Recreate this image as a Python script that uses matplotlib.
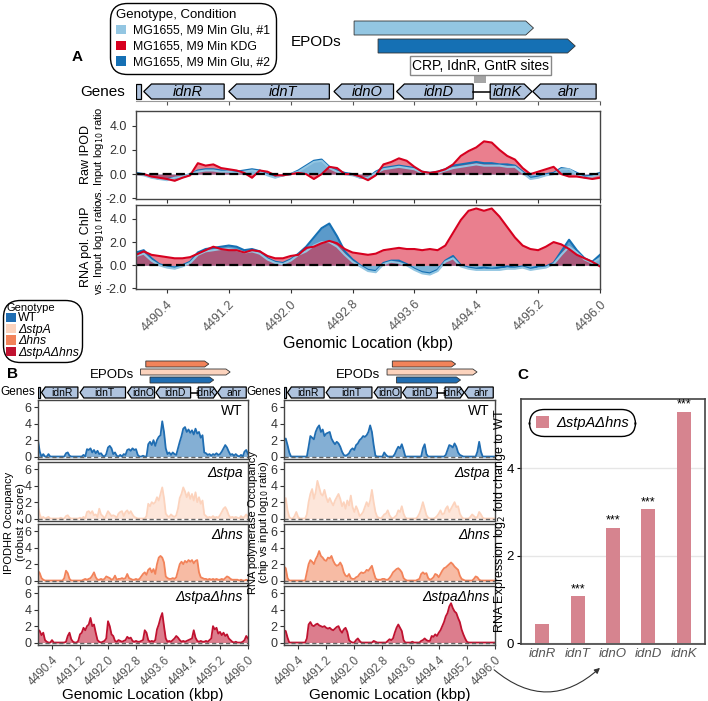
import numpy as np
import matplotlib
matplotlib.use("Agg")
import matplotlib.pyplot as plt
from matplotlib.patches import Polygon, Rectangle, Patch, FancyArrowPatch

plt.rcParams['font.family'] = ['Liberation Sans', 'DejaVu Sans']

W, H = 708, 701

# ---------------- data ----------------
tick_pos = [4490.4, 4491.2, 4492.0, 4492.8, 4493.6, 4494.4, 4495.2, 4496.0]

gene_names = ["idnR", "idnT", "idnO", "idnD", "idnK", "ahr"]
gene_start = [4490.10, 4491.20, 4492.56, 4493.37, 4494.58, 4495.13]
gene_end = [4491.14, 4492.50, 4493.33, 4494.36, 4495.12, 4495.95]
gene_strand = [-1, -1, -1, -1, 1, -1]
stub_gene = [4490.0, 4490.06]
site_span = [4494.36, 4494.54]

# panel A
cond_labels = ["MG1655, M9 Min Glu, #1", "MG1655, M9 Min KDG", "MG1655, M9 Min Glu, #2"]
cond_colors = ["#93c6e2", "#d7001f", "#1570b4"]
epod_a_start = [4492.82, 4493.13]
epod_a_end = [4495.14, 4495.68]

pos_a = np.linspace(4490.0, 4496.0, 61)
raw_glu1 = [0.0, -0.1, -0.3, -0.4, -0.5, -0.3, -0.2, 0.0, 0.2, 0.3,
            0.3, 0.2, 0.2, 0.1, 0.2, 0.3, 0.2, -0.1, -0.3, -0.1,
            0.0, 0.2, 0.6, 1.0, 1.1, 0.5, 0.2, 0.0, -0.1, -0.3,
            -0.3, 0.1, 0.4, 0.5, 0.6, 0.5, 0.4, 0.1, 0.1, 0.1,
            0.3, 0.5, 0.6, 0.7, 0.8, 0.7, 0.7, 0.7, 0.6, 0.6,
            0.1, -0.4, -0.3, -0.1, 0.0, 0.4, 0.4, 0.0, -0.3, -0.2, 0.0]
raw_kdg = [0.0, 0.0, -0.2, -0.3, -0.4, -0.55, -0.3, -0.1, 0.9, 0.7,
           0.8, 0.5, 0.4, 0.3, 0.1, -0.3, 0.3, 0.2, -0.1, -0.1,
           0.0, 0.1, 0.0, -0.4, 0.0, 0.6, 0.5, 0.0, 0.0, -0.2,
           -0.5, -0.1, 0.8, 1.0, 1.3, 1.1, 0.6, 0.2, 0.1, 0.2,
           0.4, 0.8, 1.5, 1.9, 2.2, 2.7, 2.6, 2.0, 1.5, 1.2,
           0.5, 0.0, 0.2, 0.4, 0.6, 0.0, -0.2, -0.2, -0.3, -0.4, -0.3]
raw_glu2 = [0.1, 0.0, -0.2, -0.4, -0.4, -0.3, -0.2, 0.0, 0.3, 0.4,
            0.4, 0.3, 0.2, 0.2, 0.3, 0.4, 0.3, 0.0, -0.2, -0.1,
            0.0, 0.3, 0.7, 1.1, 1.2, 0.6, 0.3, 0.1, 0.0, -0.3,
            -0.3, 0.2, 0.5, 0.6, 0.7, 0.6, 0.5, 0.2, 0.1, 0.2,
            0.4, 0.7, 0.8, 0.9, 1.0, 0.9, 0.9, 0.8, 0.8, 0.7,
            0.2, -0.3, -0.2, 0.0, 0.1, 0.5, 0.4, 0.1, -0.2, -0.1, 0.1]
rna_glu1 = [0.8, 1.0, 0.4, 0.0, -0.2, -0.3, -0.1, 0.2, 0.9, 1.2,
            1.3, 1.4, 1.4, 1.3, 1.1, 1.2, 1.0, 0.5, 0.2, 0.1,
            0.4, 0.9, 1.2, 1.7, 2.0, 2.0, 1.6, 0.9, 0.3, -0.1,
            -0.5, -0.6, 0.1, 0.3, 0.2, 0.0, -0.4, -0.7, -0.8, -0.5,
            0.3, 0.6, -0.1, -0.3, -0.4, -0.4, -0.4, -0.4, -0.3, -0.3,
            -0.2, -0.4, -0.3, -0.2, 0.1, 0.9, 1.6, 1.1, 0.5, 0.2, 0.6]
rna_kdg = [0.9, 1.2, 0.9, 0.8, 0.7, 0.6, 0.6, 0.7, 1.0, 1.3,
           1.6, 1.4, 1.3, 1.3, 1.1, 1.3, 1.2, 0.8, 0.6, 0.6,
           0.8, 0.9, 1.5, 1.6, 1.9, 2.1, 1.9, 1.4, 1.1, 1.0,
           0.9, 1.0, 1.3, 1.4, 1.5, 1.4, 1.4, 1.3, 1.4, 1.3,
           1.7, 2.8, 3.9, 4.7, 4.9, 4.7, 4.9, 4.2, 3.3, 2.4,
           1.7, 1.4, 1.3, 1.6, 2.0, 1.8, 1.4, 0.9, 0.6, 0.3, -0.1]
rna_glu2 = [1.1, 1.3, 0.6, 0.1, -0.1, -0.2, 0.0, 0.3, 1.1, 1.4,
            1.5, 1.6, 1.7, 1.6, 1.3, 1.4, 1.2, 0.6, 0.3, 0.2,
            0.5, 1.0, 1.6, 2.4, 3.2, 3.6, 2.5, 1.2, 0.5, 0.0,
            -0.4, -0.5, 0.2, 0.4, 0.4, 0.1, -0.3, -0.6, -0.7, -0.4,
            0.4, 0.8, 0.0, -0.2, -0.3, -0.2, -0.3, -0.2, -0.1, -0.2,
            -0.1, -0.3, -0.1, -0.1, 0.2, 1.2, 2.2, 1.3, 0.6, 0.3, 0.9]

# panel B
geno_labels = ["WT", "\u0394stpA", "\u0394hns", "\u0394stpA\u0394hns"]
geno_tags = ["WT", "\u0394stpa", "\u0394hns", "\u0394stpa\u0394hns"]
geno_colors = ["#1f6db2", "#fcd3bd", "#f2835a", "#c01230"]
epod_b_order = [2, 1, 0]  # hns, stpA, WT rows top to bottom
epod_b_start = [4493.20, 4492.93, 4493.08]   # WT, stpA, hns
epod_b_end = [4495.02, 4495.49, 4494.88]

pos_b = np.linspace(4490.0, 4496.0, 121)
ipod_wt = [2.0, 0.6, 0.0, 0.3, 0.0, 0.0, 0.3, 0.0, 0.0, 0.0,
           0.0, 0.0, 0.0, 0.0, 0.0, 0.0, 0.4, 0.5, 0.1, 0.0,
           0.0, 0.0, 0.0, 0.0, 0.0, 0.0, 0.2, 0.0, 0.9, 0.8,
           1.0, 0.5, 0.8, 0.4, 0.7, 0.3, 0.4, 0.1, 0.0, 0.3,
           1.1, 1.3, 1.0, 0.3, 0.5, 0.1, 0.0, 0.2, 0.0, 0.3,
           0.2, 0.8, 0.9, 0.7, 1.0, 0.8, 0.9, 0.2, 0.0, 0.0,
           0.1, 0.0, 0.0, 1.5, 1.8, 1.4, 2.0, 1.3, 2.0, 2.4,
           2.6, 4.3, 3.0, 1.0, 0.3, 0.5, 0.2, 0.5, 0.3, 0.2,
           1.0, 1.8, 2.5, 3.4, 3.6, 3.0, 3.3, 2.9, 3.2, 2.7,
           3.4, 2.8, 3.0, 2.3, 2.6, 0.5, 0.4, 0.2, 0.3, 0.1,
           0.3, 0.2, 0.4, 0.2, 0.3, 0.6, 1.0, 1.4, 1.1, 0.6,
           0.2, 0.3, 0.1, 0.3, 0.1, 0.0, 0.2, 0.0, 0.6, 0.8, 0.3]
ipod_stpa = [1.4, 0.5, 0.0, 0.2, 0.0, 0.1, 0.2, 0.0, 0.0, 0.0,
             0.0, 0.0, 0.0, 0.1, 0.0, 0.0, 0.3, 0.4, 0.1, 0.0,
             0.0, 0.0, 0.0, 0.0, 0.1, 0.0, 0.2, 0.0, 0.8, 0.9,
             0.6, 0.9, 0.4, 0.5, 0.2, 1.2, 0.5, 0.3, 0.0, 0.4,
             0.9, 0.6, 0.3, 0.4, 0.3, 0.1, 0.6, 0.8, 0.9, 0.3,
             0.8, 1.0, 0.6, 0.9, 0.5, 0.2, 0.1, 0.0, 0.0, 0.0,
             0.0, 0.0, 0.3, 1.8, 1.5, 2.0, 1.8, 2.0, 2.6, 2.2,
             3.0, 3.8, 2.5, 0.6, 0.3, 0.2, 0.5, 0.3, 0.2, 0.4,
             1.2, 2.5, 3.0, 3.8, 3.3, 2.6, 3.2, 2.4, 3.0, 2.2,
             3.2, 2.0, 2.6, 1.8, 2.2, 0.5, 0.3, 0.1, 0.2, 0.1,
             0.3, 0.1, 0.2, 0.1, 0.4, 0.8, 1.2, 1.4, 1.0, 0.4,
             0.1, 0.2, 0.1, 0.2, 0.1, 0.0, 0.3, 0.1, 0.2, 0.5, 0.2]
ipod_hns = [1.2, 0.9, 0.3, 0.1, 0.0, 0.0, 0.0, 0.0, 0.0, 0.0,
            0.0, 0.0, 0.0, 0.0, 0.0, 0.3, 1.2, 0.9, 0.2, 0.0,
            0.0, 0.0, 0.0, 0.0, 0.0, 0.0, 0.1, 0.2, 0.1, 0.2,
            0.3, 0.6, 1.0, 0.4, 0.1, 0.1, 0.2, 0.1, 0.2, 0.5,
            0.4, 0.3, 0.1, 0.2, 0.6, 0.1, 0.2, 0.2, 0.3, 0.2,
            0.3, 0.8, 0.3, 0.2, 0.1, 0.1, 0.2, 0.1, 0.2, 0.5,
            0.8, 1.0, 0.7, 1.3, 1.5, 1.0, 1.4, 0.8, 2.0, 2.8,
            3.0, 2.8, 2.2, 0.5, 0.3, 0.2, 0.2, 0.3, 0.2, 0.4,
            1.2, 2.0, 2.3, 2.0, 2.4, 2.2, 2.5, 2.3, 2.5, 2.1,
            2.4, 2.5, 1.0, 0.4, 0.3, 0.2, 0.2, 0.1, 0.2, 0.1,
            0.2, 0.1, 0.2, 0.1, 0.1, 0.2, 0.1, 0.3, 0.5, 0.4,
            0.2, 0.1, 0.1, 0.1, 0.1, 0.0, 0.1, 0.0, 0.0, 0.1, 0.0]
ipod_double = [1.6, 1.4, 0.9, 1.2, 0.3, 0.1, 0.0, 0.0, 0.3, 0.0,
               0.0, 0.0, 0.0, 0.0, 0.0, 0.0, 0.1, 0.8, 1.2, 0.4,
               0.1, 0.0, 0.0, 0.2, 1.0, 1.2, 1.8, 1.5, 2.0, 2.2,
               3.0, 2.0, 2.2, 1.2, 0.3, 0.1, 0.0, 0.1, 0.2, 0.5,
               2.6, 2.0, 1.0, 0.8, 0.2, 0.1, 0.3, 0.2, 0.1, 0.2,
               0.3, 0.7, 0.5, 0.6, 0.2, 0.1, 0.2, 0.1, 0.1, 0.2,
               0.3, 1.5, 1.2, 0.3, 0.1, 0.2, 0.1, 0.3, 1.6, 2.2,
               3.0, 3.6, 2.0, 0.5, 0.1, 0.2, 0.1, 0.3, 0.5, 0.8,
               0.6, 0.3, 0.1, 0.2, 0.1, 0.2, 0.3, 0.4, 0.5, 1.5,
               0.6, 0.2, 0.1, 0.2, 0.1, 0.1, 0.2, 0.1, 0.3, 0.5,
               2.0, 1.6, 1.8, 1.1, 1.3, 0.9, 1.2, 0.8, 1.0, 0.5,
               0.3, 0.1, 0.0, 0.1, 0.0, 0.0, 0.0, 0.1, 0.3, 0.8, 0.5]

rnap_wt = [2.0, 2.2, 1.4, 0.5, 0.0, 0.0, 0.0, 0.0, 0.0, 0.0,
           0.0, 0.0, 0.0, 0.0, 1.2, 2.5, 2.3, 2.1, 3.0, 3.5,
           3.8, 3.0, 3.3, 2.5, 2.8, 2.9, 3.0, 2.2, 1.8, 1.5,
           1.8, 1.6, 1.2, 0.6, 0.2, 0.1, 0.2, 0.4, 0.8, 1.0,
           0.8, 1.4, 1.6, 2.0, 2.2, 2.5, 2.4, 2.6, 3.0, 3.8,
           3.0, 1.4, 0.1, 0.0, 0.0, 0.0, 0.0, 0.5, 0.2, 0.0,
           0.0, 0.0, 0.0, 0.3, 0.8, 1.2, 1.0, 1.5, 0.8, 0.0,
           0.0, 0.0, 0.0, 0.0, 0.0, 0.0, 0.0, 0.0, 0.0, 1.0,
           1.5, 0.3, 0.0, 0.0, 0.0, 0.0, 0.0, 0.0, 0.0, 0.0,
           0.0, 0.0, 0.2, 0.8, 1.4, 1.3, 1.1, 1.6, 1.2, 0.5,
           0.2, 0.1, 0.0, 0.0, 0.0, 0.0, 0.0, 0.0, 0.0, 0.0,
           0.6, 1.8, 0.6, 0.0, 0.0, 0.0, 0.0, 0.0, 0.0, 0.0, 0.0]
rnap_stpa = [1.8, 2.5, 1.0, 0.2, 0.0, 0.0, 0.3, 0.8, 0.2, 0.0,
             0.0, 0.0, 0.0, 0.5, 2.0, 3.0, 3.6, 2.4, 3.2, 4.6,
             3.8, 3.0, 2.8, 3.5, 2.6, 2.0, 2.5, 2.0, 1.6, 2.2,
             2.6, 3.0, 2.4, 1.5, 2.0, 1.2, 2.2, 1.6, 2.8, 1.4,
             0.8, 1.5, 1.0, 0.3, 0.5, 0.8, 1.4, 2.0, 1.5, 2.2,
             3.5, 2.0, 0.8, 0.2, 0.1, 0.0, 0.2, 0.5, 0.6, 1.0,
             0.4, 0.1, 0.0, 0.2, 0.4, 1.0, 0.8, 1.5, 0.6, 0.1,
             0.0, 0.0, 0.0, 0.0, 0.0, 0.0, 0.2, 0.6, 1.2, 2.0,
             1.2, 0.4, 0.1, 0.0, 0.0, 0.0, 0.1, 0.3, 0.6, 1.0,
             0.5, 0.6, 1.2, 1.5, 0.8, 1.2, 1.6, 2.0, 1.4, 1.5,
             0.6, 0.2, 0.0, 0.0, 0.0, 0.0, 0.2, 0.5, 0.3, 0.1,
             0.2, 0.8, 0.5, 0.1, 0.0, 0.0, 0.0, 0.0, 0.0, 0.0, 0.0]
rnap_hns = [1.7, 1.5, 0.3, 0.0, 0.0, 0.0, 0.0, 0.0, 0.0, 0.0,
            0.0, 0.0, 0.0, 1.0, 2.0, 2.5, 2.3, 2.0, 2.6, 3.0,
            3.6, 3.0, 2.8, 2.5, 2.4, 2.8, 2.7, 3.0, 2.4, 2.0,
            1.8, 1.9, 2.2, 1.8, 1.0, 0.6, 0.5, 0.8, 0.3, 0.2,
            0.2, 0.4, 0.5, 0.8, 1.0, 0.9, 1.0, 1.3, 1.2, 1.5,
            1.8, 1.0, 0.3, 0.1, 0.1, 0.1, 0.2, 0.2, 0.1, 0.1,
            0.3, 0.6, 1.0, 1.2, 1.4, 1.5, 1.3, 1.0, 0.3, 0.1,
            0.0, 0.0, 0.0, 0.0, 0.0, 0.0, 0.1, 0.2, 0.8, 1.0,
            0.8, 0.9, 0.3, 0.1, 0.2, 0.4, 0.8, 0.7, 0.4, 0.8,
            1.2, 1.5, 1.6, 1.8, 2.0, 2.2, 2.0, 1.7, 1.5, 1.3,
            0.6, 0.2, 0.1, 0.0, 0.0, 0.0, 0.0, 0.0, 0.2, 0.5,
            0.4, 0.1, 0.0, 0.0, 0.0, 0.0, 0.0, 0.0, 0.0, 0.0, 0.0]
rnap_double = [1.5, 1.4, 0.6, 0.0, 0.0, 0.0, 0.0, 0.0, 0.0, 0.0,
               0.0, 0.0, 0.0, 0.5, 2.2, 2.5, 2.1, 2.0, 2.2, 2.3,
               2.1, 2.0, 1.9, 2.0, 1.8, 1.7, 1.8, 1.6, 1.5, 1.7,
               1.9, 2.0, 1.5, 1.2, 1.6, 1.8, 1.3, 0.3, 0.1, 0.0,
               0.0, 0.3, 0.5, 0.2, 0.0, 0.0, 0.0, 0.0, 0.0, 0.0,
               0.0, 0.2, 0.1, 0.0, 0.0, 0.0, 0.0, 0.0, 0.0, 0.2,
               0.4, 0.3, 0.5, 1.2, 1.8, 2.2, 1.8, 1.4, 0.3, 0.0,
               0.0, 0.0, 0.0, 0.1, 0.0, 0.0, 0.0, 0.0, 0.2, 0.3,
               0.5, 0.3, 0.2, 0.2, 0.8, 0.7, 1.0, 0.8, 1.2, 1.5,
               2.0, 2.5, 3.2, 3.6, 4.4, 4.8, 4.2, 3.8, 3.6, 3.0,
               2.5, 1.6, 1.0, 0.5, 0.1, 0.0, 0.0, 0.0, 0.0, 0.0,
               0.0, 0.0, 0.0, 0.0, 0.0, 0.0, 0.0, 0.0, 0.0, 0.0, 0.0]

# panel C
genes_c = ["idnR", "idnT", "idnO", "idnD", "idnK"]
fold_c = [0.43, 1.07, 2.63, 3.06, 5.28]
sig_c = ["", "***", "***", "***", "***"]

GENE_FC = "#afc3de"
SPINE = "#444444"
TICKC = "#555555"


fig = plt.figure(figsize=(W / 100, H / 100), dpi=100)


def px_axes(x0, y0, x1, y1):
    return fig.add_axes([x0 / W, 1 - y1 / H, (x1 - x0) / W, (y1 - y0) / H])


def px_vtext(x, y, s, fs):
    # one rotated line of an axis label, placed in figure pixels
    fig.text(x / W, 1 - y / H, s, rotation=90, ha="center", va="center", fontsize=fs)


def draw_genes(ax, top, bot, tip, fs, italic):
    mid = (top + bot) / 2
    ax.add_patch(Rectangle((stub_gene[0], bot), stub_gene[1] - stub_gene[0], top - bot,
                           fc=GENE_FC, ec="k", lw=0.9))
    ax.plot([gene_end[3], gene_start[4]], [mid, mid], color="k", lw=1.1)
    for name, s, e, st in zip(gene_names, gene_start, gene_end, gene_strand):
        if st < 0:
            pts = [(s, mid), (s + tip, top), (e, top), (e, bot), (s + tip, bot)]
            cx = (s + tip + e) / 2
        else:
            pts = [(s, bot), (s, top), (e - tip, top), (e, mid), (e - tip, bot)]
            cx = (s + e - tip) / 2
        ax.add_patch(Polygon(pts, closed=True, fc=GENE_FC, ec="k", lw=0.9))
        ax.text(cx, mid, name, ha="center", va="center", fontsize=fs,
                style="italic" if italic else "normal")


def draw_epod(ax, s, e, top, bot, tip, color):
    mid = (top + bot) / 2
    pts = [(s, top), (e - tip, top), (e, mid), (e - tip, bot), (s, bot)]
    ax.add_patch(Polygon(pts, closed=True, fc=color, ec="#333333", lw=0.6))


def annot_axes(x0, y0, x1, y1):
    ax = px_axes(x0, y0, x1, y1)
    ax.set_xlim(4490.0, 4496.0)
    ax.set_ylim(y1, y0)
    for sp in ["top", "left", "right"]:
        ax.spines[sp].set_visible(False)
    ax.spines["bottom"].set_color("#999999")
    ax.spines["bottom"].set_linewidth(0.8)
    ax.set_xticks(tick_pos)
    ax.tick_params(axis="x", length=3, color="#555555", labelbottom=False)
    ax.set_yticks([])
    ax.patch.set_alpha(0)
    return ax


def style_track(ax):
    for sp in ax.spines.values():
        sp.set_color(SPINE)
        sp.set_linewidth(1.0)
    ax.set_xlim(4490.0, 4496.0)
    ax.set_xticks(tick_pos)
    ax.tick_params(axis="both", labelsize=9, colors="#333333", length=3, width=0.8)


# ---------------- panel A ----------------
ann_a = annot_axes(136, 15, 600, 101)
draw_genes(ann_a, 84, 99, 0.1, 10.5, True)
for s, e, c, top in zip(epod_a_start, epod_a_end, [cond_colors[0], cond_colors[2]], [21, 39]):
    draw_epod(ann_a, s, e, top, top + 14, 0.1, c)
site_mid = (site_span[0] + site_span[1]) / 2
ann_a.add_patch(Rectangle((site_span[0] + 0.01, 76), site_span[1] - site_span[0] - 0.02, 7,
                          fc="#a5a5a5", ec="none"))
ann_a.text(site_mid, 65.5, "CRP, IdnR, GntR sites", ha="center", va="center", fontsize=10,
           bbox=dict(boxstyle="square,pad=0.15", fc="white", ec="#888888", lw=1))
fig.text(125 / W, 1 - 92 / H, "Genes", ha="right", va="center", fontsize=11)
fig.text(316 / W, 1 - 42 / H, "EPODs", ha="center", va="center", fontsize=11)
fig.text(77 / W, 1 - 57 / H, "A", ha="center", va="center", fontsize=11, weight="bold")

track_sets = [
    ((111, 199), [raw_glu2, raw_glu1, raw_kdg], "Raw IPOD"),
    ((205, 289), [rna_glu2, rna_glu1, rna_kdg], "RNA pol. ChIP"),
]
fill_cols = [(cond_colors[2], 0.7), (cond_colors[0], 0.6), (cond_colors[1], 0.5)]
for k, ((y0, y1), series, ylab) in enumerate(track_sets):
    ax = px_axes(136, y0, 600, y1)
    style_track(ax)
    for vals, (c, a) in zip(series, fill_cols):
        ax.fill_between(pos_a, 0, vals, color=c, alpha=a, lw=0)
    for vals, (c, a) in zip(series, fill_cols):
        ax.plot(pos_a, vals, color=c, lw=1.5)
    ax.axhline(0, color="k", lw=1.6, dashes=(4, 2))
    ax.set_ylim(-2.05, 5.2)
    ax.set_yticks([-2, 0, 2, 4])
    ax.set_yticklabels(["-2.0", "0.0", "2.0", "4.0"])
    px_vtext(86, (y0 + y1) / 2, ylab, 9)
    px_vtext(98.5, (y0 + y1) / 2, "vs. Input log$_{10}$ ratio", 8)
    if k == 0:
        ax.tick_params(axis="x", labelbottom=False)
    else:
        ax.set_xticklabels([f"{t:.1f}" for t in tick_pos], rotation=45, ha="right",
                           rotation_mode="anchor", color=TICKC, fontsize=9)
        ax.set_xlabel("Genomic Location (kbp)", fontsize=11.5, labelpad=2)

leg_a = fig.legend([Patch(fc=c, ec="none") for c in cond_colors], cond_labels,
                   title="Genotype, Condition", loc="upper left",
                   bbox_to_anchor=(110 / W, 1 - 3 / H), fontsize=8.8, title_fontsize=9.5,
                   frameon=True, fancybox=True, edgecolor="k", framealpha=1,
                   handlelength=0.8, handleheight=0.8, handletextpad=0.6,
                   borderpad=0.5, labelspacing=0.3, alignment="left", borderaxespad=0)
leg_a.get_frame().set_boxstyle("round,pad=0,rounding_size=1.4")
leg_a.get_frame().set_linewidth(1.0)

# ---------------- panel B ----------------
leg_b = fig.legend([Patch(fc=c, ec="none") for c in geno_colors], geno_labels,
                   title="Genotype", loc="upper left", bbox_to_anchor=(3 / W, 1 - 300 / H),
                   fontsize=8.8, title_fontsize=8, frameon=True, fancybox=True,
                   edgecolor="k", framealpha=1, handlelength=0.8, handleheight=0.8,
                   handletextpad=0.2, borderpad=0.25, labelspacing=-0.05, alignment="left",
                   borderaxespad=0)
leg_b.get_frame().set_boxstyle("round,pad=0,rounding_size=1.4")
for t in leg_b.get_texts()[1:]:
    t.set_style("italic")
fig.text(12 / W, 1 - 374 / H, "B", ha="center", va="center", fontsize=11, weight="bold")

b_panels = [
    (38, 248, [ipod_wt, ipod_stpa, ipod_hns, ipod_double],
     ["IPODHR Occupancy", "(robust z score)"], (9.5, 21), 112),
    (284, 495, [rnap_wt, rnap_stpa, rnap_hns, rnap_double],
     ["RNA polymerase Occupancy", "(chip vs input log$_{10}$ ratio)"], (253.5, 264), 358),
]
row_y = [(400, 459), (462, 521), (524, 583), (586, 645)]
for x0, x1, series, ylab, lab_x, epx in b_panels:
    ann = annot_axes(x0, 355, x1, 401)
    draw_genes(ann, 387, 398, 0.11, 7.5, False)
    for r, gi in enumerate(epod_b_order):
        top = 361 + 8 * r
        draw_epod(ann, epod_b_start[gi], epod_b_end[gi], top, top + 6, 0.12, geno_colors[gi])
    fig.text((x0 - 3) / W, 1 - 392 / H, "Genes", ha="right", va="center", fontsize=8.5)
    fig.text(epx / W, 1 - 375 / H, "EPODs", ha="center", va="center", fontsize=9.5)
    for r, (y0, y1) in enumerate(row_y):
        ax = px_axes(x0, y0, x1, y1)
        style_track(ax)
        c = geno_colors[r]
        ax.fill_between(pos_b, 0, series[r], color=c, alpha=0.55, lw=0)
        ax.plot(pos_b, series[r], color=c, lw=1.3)
        ax.axhline(0, color="#666666", lw=1.0, dashes=(3, 2))
        ax.set_ylim(-0.3, 6.9)
        ax.set_yticks([0, 2, 4, 6])
        ax.tick_params(axis="y", pad=1.5)
        ax.text(0.975, 0.93, geno_tags[r], transform=ax.transAxes, ha="right", va="top",
                fontsize=10, style="normal" if r == 0 else "italic")
        if r < 3:
            ax.tick_params(axis="x", labelbottom=False, length=0)
        else:
            ax.set_xticklabels([f"{t:.1f}" for t in tick_pos], rotation=45, ha="right",
                               rotation_mode="anchor", color=TICKC, fontsize=8.5)
            ax.set_xlabel("Genomic Location (kbp)", fontsize=11, labelpad=0)
    yc = (row_y[0][0] + row_y[-1][1]) / 2
    px_vtext(lab_x[0], yc, ylab[0], 8)
    px_vtext(lab_x[1], yc, ylab[1], 8)

# ---------------- panel C ----------------
axc = px_axes(521, 399, 705, 644)
idx = np.arange(len(genes_c))
axc.bar(idx, fold_c, width=0.4, color="#d6848f", zorder=2)
for i, (v, s) in enumerate(zip(fold_c, sig_c)):
    if s:
        axc.text(i, v + 0.03, s, ha="center", va="bottom", fontsize=9)
axc.set_xlim(-0.6, 4.6)
axc.set_ylim(-0.02, 5.58)
axc.set_yticks([0, 2, 4])
axc.set_xticks(idx)
axc.set_xticklabels(genes_c, style="italic", color=TICKC, fontsize=9.5)
axc.tick_params(axis="x", length=0, pad=3)
axc.tick_params(axis="y", labelsize=9.5, length=3, pad=2)
axc.grid(axis="y", color="#e6e6e6", lw=1, zorder=0)
axc.set_axisbelow(True)
for sp in axc.spines.values():
    sp.set_color(SPINE)
    sp.set_linewidth(1.2)
px_vtext(500, 521, "RNA Expression log$_2$ fold change to WT", 9)
leg_c = axc.legend([Patch(fc="#d6848f", ec="none")], ["\u0394stpA\u0394hns"],
                   loc="upper left", bbox_to_anchor=(8 / 184, 1 - 10 / 245),
                   prop={"style": "italic", "size": 10.5}, frameon=True, fancybox=True,
                   edgecolor="k", framealpha=1, handlelength=0.9, handleheight=0.9,
                   handletextpad=0.5, borderpad=0.45, borderaxespad=0)
leg_c.get_frame().set_boxstyle("round,pad=0,rounding_size=1.0")
fig.text(523 / W, 1 - 375 / H, "C", ha="center", va="center", fontsize=11, weight="bold")

arrow = FancyArrowPatch((492 / W, 1 - 668 / H), (602 / W, 1 - 666 / H),
                        transform=fig.transFigure, connectionstyle="arc3,rad=0.45",
                        arrowstyle="-|>", mutation_scale=8, color="#333333", lw=0.8)
fig.add_artist(arrow)

fig.savefig("out.png", dpi=100)
